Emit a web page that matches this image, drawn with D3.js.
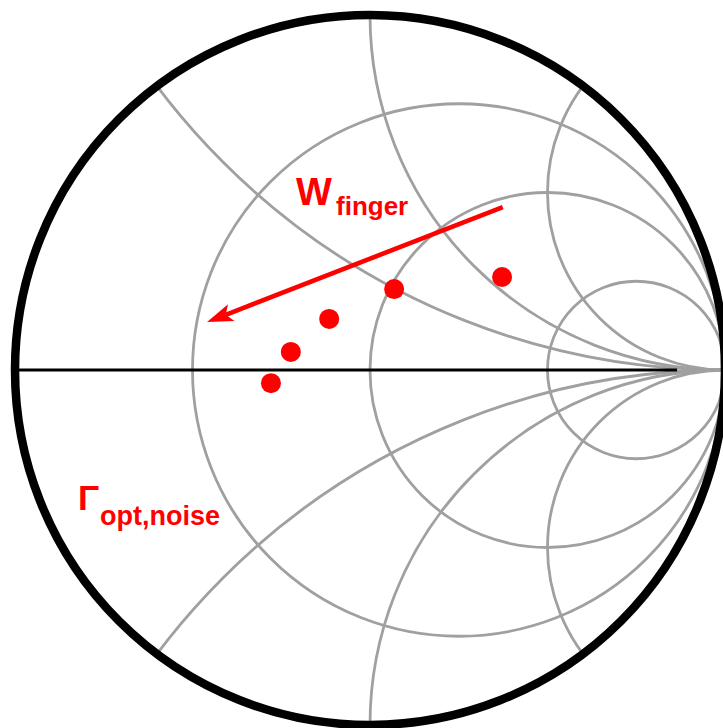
<!DOCTYPE html>
<html>
<head>
<meta charset="utf-8">
<script src="https://cdn.jsdelivr.net/npm/d3@7"></script>
<style>
  html, body { margin: 0; padding: 0; background: #fff; }
  svg { display: block; }
</style>
</head>
<body>
<svg id="chart" width="723" height="728"></svg>
<script>
// Smith chart grid values (normalized impedance)
const resistanceCircles = [1 / 3, 1, 3];
const reactanceArcs = [0.5, 1, 2, -0.5, -1, -2];

// Optimum noise reflection coefficients (Gamma real, Gamma imag) for increasing finger width
const gammaRe = [-0.279, -0.223, -0.115, 0.068, 0.372];
const gammaIm = [-0.037, 0.051, 0.144, 0.228, 0.262];

// Trend arrow (Gamma plane): start and end
const arrowRe = [0.374, -0.459];
const arrowIm = [0.459, 0.135];

const width = 723, height = 728;
const cx = 370, cy = 370, R = 355;

const x = d3.scaleLinear().domain([-1, 1]).range([cx - R, cx + R]);
const y = d3.scaleLinear().domain([-1, 1]).range([cy + R, cy - R]);
const len = d3.scaleLinear().domain([0, 2]).range([0, 2 * R]);

const svg = d3.select("#chart");
const defs = svg.append("defs");

defs.append("clipPath").attr("id", "unit")
  .append("circle")
  .attr("cx", x(0)).attr("cy", y(0)).attr("r", len(1));

const grid = svg.append("g").attr("clip-path", "url(#unit)");

// Real axis
svg.append("line")
  .attr("x1", x(-1)).attr("x2", x(0.865))
  .attr("y1", y(0)).attr("y2", y(0))
  .attr("stroke", "#000").attr("stroke-width", 3);

// Constant resistance circles: center (r/(1+r), 0), radius 1/(1+r)
grid.selectAll("circle.res")
  .data(resistanceCircles)
  .join("circle")
  .attr("class", "res")
  .attr("cx", r => x(r / (1 + r)))
  .attr("cy", y(0))
  .attr("r", r => len(1 / (1 + r)))
  .attr("fill", "none")
  .attr("stroke", "#a0a0a0")
  .attr("stroke-width", 2.8);

// Constant reactance arcs: center (1, 1/x), radius 1/|x|
grid.selectAll("circle.reac")
  .data(reactanceArcs)
  .join("circle")
  .attr("class", "reac")
  .attr("cx", x(1))
  .attr("cy", v => y(1 / v))
  .attr("r", v => len(1 / Math.abs(v)))
  .attr("fill", "none")
  .attr("stroke", "#a0a0a0")
  .attr("stroke-width", 2.8);

// Outer boundary |Gamma| = 1
svg.append("circle")
  .attr("cx", x(0)).attr("cy", y(0)).attr("r", len(1))
  .attr("fill", "none")
  .attr("stroke", "#000")
  .attr("stroke-width", 8.5);

// Trend arrow: shaft plus swept-back head
const x0 = x(arrowRe[0]), y0 = y(arrowIm[0]);
const x1 = x(arrowRe[1]), y1 = y(arrowIm[1]);
const ang = Math.atan2(y1 - y0, x1 - x0);
const headLen = 26, headHalf = 9, notch = 6;
const ux = Math.cos(ang), uy = Math.sin(ang);
const px = -uy, py = ux;
const bx = x1 - ux * headLen, by = y1 - uy * headLen;

svg.append("line")
  .attr("x1", x0).attr("y1", y0)
  .attr("x2", x1 - ux * (headLen - notch)).attr("y2", y1 - uy * (headLen - notch))
  .attr("stroke", "#ff0000")
  .attr("stroke-width", 4.6);

svg.append("path")
  .attr("d", d3.line()([
    [x1, y1],
    [bx + px * headHalf, by + py * headHalf],
    [x1 - ux * (headLen - notch), y1 - uy * (headLen - notch)],
    [bx - px * headHalf, by - py * headHalf]
  ]) + "Z")
  .attr("fill", "#ff0000");

// Optimum noise points
svg.selectAll("circle.pt")
  .data(gammaRe.map((re, i) => ({ re, im: gammaIm[i] })))
  .join("circle")
  .attr("class", "pt")
  .attr("cx", d => x(d.re))
  .attr("cy", d => y(d.im))
  .attr("r", 10)
  .attr("fill", "#ff0000");

// Labels
const font = "'Liberation Sans', Arial, Helvetica, sans-serif";
const label = (tx, ty, size, str) => svg.append("text")
  .attr("x", tx).attr("y", ty)
  .attr("font-family", font)
  .attr("font-weight", "bold")
  .attr("font-size", size)
  .attr("fill", "#ff0000")
  .text(str);

label(296, 205, 38, "W");
label(336, 215, 26, "finger");
label(78, 510, 35, "Γ");
label(100, 525, 27, "opt,noise");
</script>
</body>
</html>
